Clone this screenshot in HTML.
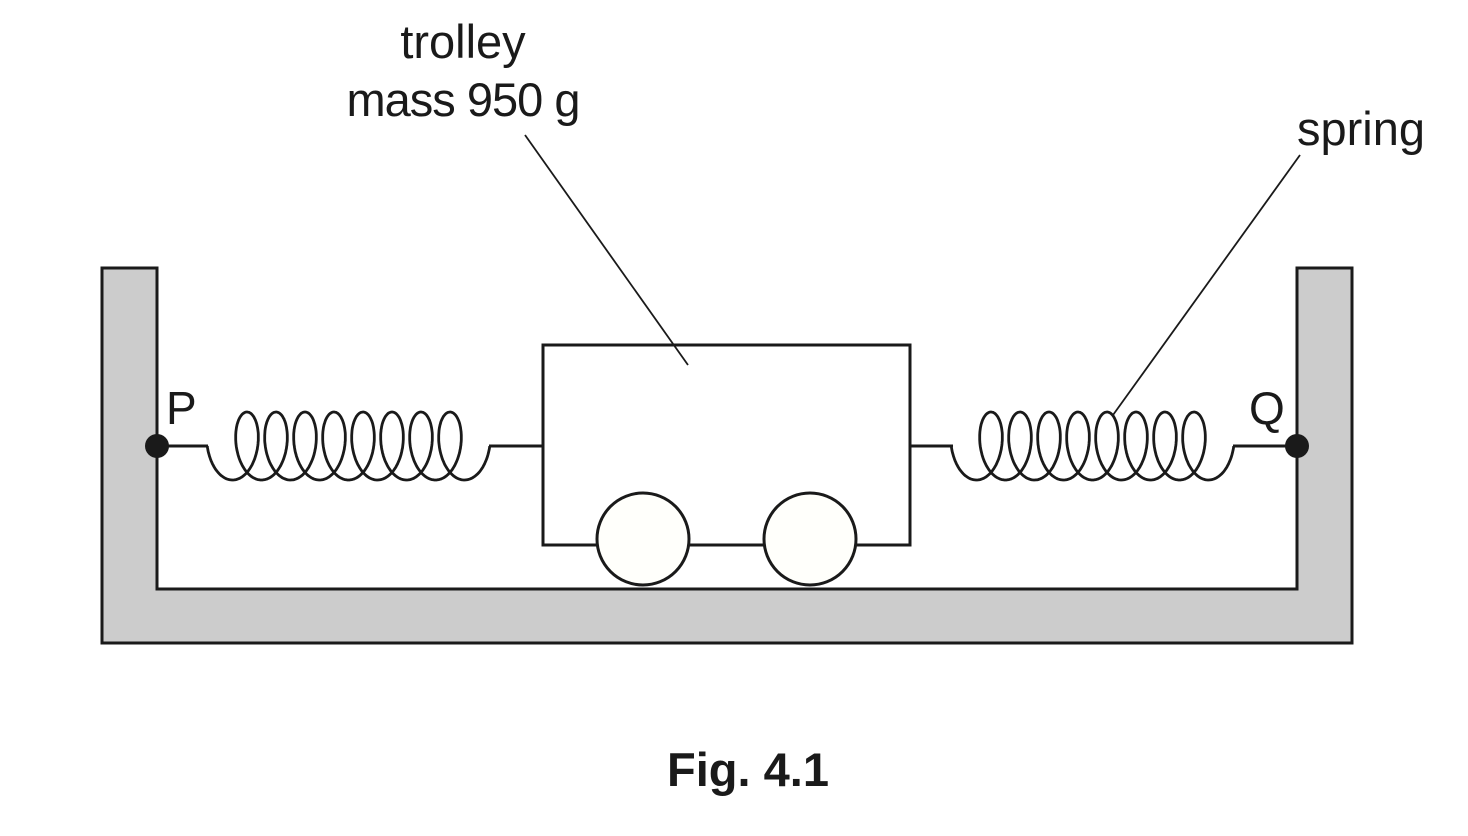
<!DOCTYPE html>
<html><head><meta charset="utf-8"><style>
html,body{margin:0;padding:0;background:#fff;}
svg{display:block;}
text{font-family:"Liberation Sans",Arial,sans-serif;fill:#1a1a1a;}
</style></head><body>
<svg id="s" width="1468" height="836" viewBox="0 0 1468 836" xmlns="http://www.w3.org/2000/svg">
<path d="M102,268 H157 V589 H1297 V268 H1352 V643 H102 Z" fill="#cccccc" stroke="#1a1a1a" stroke-width="3"/>
<rect x="543" y="345" width="367" height="200" fill="#fff" stroke="#1a1a1a" stroke-width="3"/>
<circle cx="643" cy="539" r="46" fill="#fffffb" stroke="#1a1a1a" stroke-width="3"/>
<circle cx="810" cy="539" r="46" fill="#fffffb" stroke="#1a1a1a" stroke-width="3"/>
<line x1="157" y1="446" x2="208" y2="446" stroke="#1a1a1a" stroke-width="3"/>
<line x1="489" y1="446" x2="543" y2="446" stroke="#1a1a1a" stroke-width="3"/>
<line x1="910" y1="446" x2="953" y2="446" stroke="#1a1a1a" stroke-width="3"/>
<line x1="1233" y1="446" x2="1297" y2="446" stroke="#1a1a1a" stroke-width="3"/>
<polyline id="c1" fill="none" stroke="#1a1a1a" stroke-width="2.8"/>
<polyline id="c2" fill="none" stroke="#1a1a1a" stroke-width="2.8"/>
<circle cx="157" cy="446" r="12" fill="#1a1a1a"/>
<circle cx="1297" cy="446" r="12" fill="#1a1a1a"/>
<line x1="525" y1="135" x2="688" y2="365" stroke="#1a1a1a" stroke-width="1.8"/>
<line x1="1300" y1="155" x2="1113" y2="415" stroke="#1a1a1a" stroke-width="1.8"/>
<text x="463" y="58" font-size="47" text-anchor="middle">trolley</text>
<text x="463" y="116" font-size="47" text-anchor="middle" letter-spacing="-1">mass 950 g</text>
<text x="1297" y="145" font-size="47">spring</text>
<text x="166" y="424" font-size="46">P</text>
<text x="1249" y="424" font-size="46">Q</text>
<text x="748" y="786" font-size="47" font-weight="bold" text-anchor="middle">Fig. 4.1</text>
</svg>
<script>
function coil(id,x0){var a=29/(2*Math.PI),b=18,h=34,yc=446,p=[];
for(var t=-Math.PI/2;t<=16.5*Math.PI+0.001;t+=0.05){p.push((x0+a*t+b*Math.sin(t)).toFixed(1)+','+(yc+h*Math.cos(t)).toFixed(1));}
document.getElementById(id).setAttribute('points',p.join(' '));}
coil('c1',232.5);coil('c2',976.5);
</script>
</body></html>
